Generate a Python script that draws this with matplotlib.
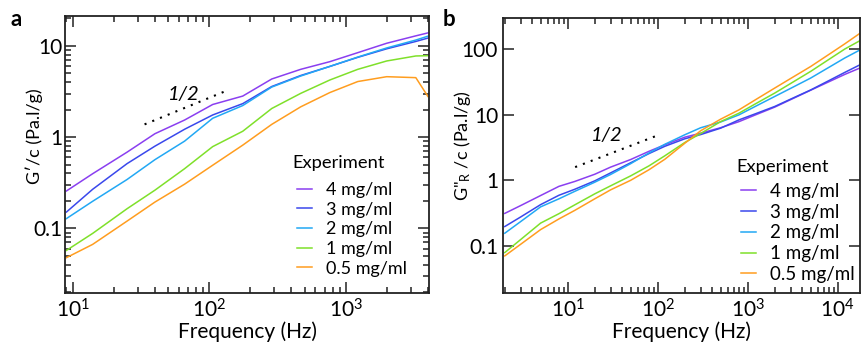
import matplotlib
matplotlib.use("Agg")
import matplotlib.pyplot as plt
from matplotlib import ticker

plt.rcParams['font.family'] = ['Lato', 'DejaVu Sans']
plt.rcParams['mathtext.default'] = 'regular'

# ==== データ (a: G'/c, b: G''_R/c) ====
labels = ["4 mg/ml", "3 mg/ml", "2 mg/ml", "1 mg/ml", "0.5 mg/ml"]
colors = ["#8a3ff0", "#3a48ec", "#22a8f4", "#7fe02a", "#ff9d1f"]

freq_a = [9, 14, 25, 40, 66, 106, 176, 287, 468, 764, 1225, 1995, 3260, 4000]
a_4 = [0.257, 0.397, 0.684, 1.09, 1.54, 2.28, 2.82, 4.34, 5.54, 6.72, 8.44, 10.7, 12.9, 13.9]
a_3 = [0.151, 0.268, 0.512, 0.796, 1.22, 1.75, 2.33, 3.59, 4.74, 5.96, 7.5, 9.3, 11.2, 12.2]
a_2 = [0.128, 0.198, 0.343, 0.566, 0.904, 1.61, 2.22, 3.54, 4.68, 5.96, 7.55, 9.5, 11.6, 12.8]
a_1 = [0.0573, 0.088, 0.164, 0.262, 0.451, 0.787, 1.16, 2.06, 3.02, 4.23, 5.54, 6.84, 7.76, 7.82]
a_05 = [0.0477, 0.0667, 0.120, 0.194, 0.305, 0.492, 0.817, 1.38, 2.15, 3.08, 4.07, 4.60, 4.49, 2.79]

freq_b = [2, 3, 5, 8, 12, 20, 30, 50, 80, 120, 200, 300, 500, 800, 1200, 2000, 3000,
          5000, 8000, 12000, 17500]
b_4 = [0.311, 0.409, 0.582, 0.804, 0.955, 1.23, 1.58, 2.06, 2.75, 3.46, 4.52, 5.2, 6.3,
       7.8, 9.8, 13.0, 16.9, 23.5, 31.7, 41, 51]
b_3 = [0.196, 0.274, 0.423, 0.588, 0.726, 0.975, 1.29, 1.84, 2.54, 3.28, 4.27, 4.95, 6.2,
       8.3, 10.2, 13.3, 17.2, 23.7, 33, 44, 57]
b_2 = [0.155, 0.233, 0.391, 0.519, 0.675, 0.93, 1.22, 1.78, 2.6, 3.52, 4.92, 6.29, 7.7,
       9.9, 13.2, 18.9, 25.1, 36, 52.6, 73, 96]
b_1 = [0.0785, 0.124, 0.221, 0.308, 0.420, 0.618, 0.819, 1.16, 1.65, 2.35, 3.75, 5.14, 7.8,
       10.5, 14.4, 21.3, 29.8, 45.5, 69.5, 100, 133]
b_05 = [0.0699, 0.105, 0.176, 0.256, 0.346, 0.519, 0.711, 0.993, 1.44, 2.08, 3.65, 5.66, 8.5,
        11.8, 16.6, 25.4, 35.5, 54, 82.8, 120, 172]

# 傾き 1/2 のガイド線
guide_a_x = [33.6, 134]
guide_a_y = [1.38, 3.23]
guide_b_x = [12.1, 104]
guide_b_y = [1.58, 4.92]

fig = plt.figure(figsize=(8.62, 3.49), dpi=100)
ax_a = fig.add_axes([0.0754, 0.1605, 0.4223, 0.7937])
ax_b = fig.add_axes([0.5835, 0.1605, 0.4142, 0.7879])


def style_axes(ax, minor_y):
    ax.set_xscale("log")
    ax.set_yscale("log")
    for s in ax.spines.values():
        s.set_linewidth(1.3)
        s.set_color("#222222")
    ax.tick_params(which="both", direction="in", top=True, right=True,
                   width=1.1, color="#222222", labelsize=15)
    ax.tick_params(which="major", length=8)
    ax.tick_params(which="minor", length=4.5)
    ax.xaxis.set_minor_formatter(ticker.NullFormatter())
    ax.yaxis.set_major_formatter(ticker.FuncFormatter(lambda v, _: f"{v:g}"))
    if not minor_y:
        ax.yaxis.set_minor_locator(ticker.NullLocator())
    else:
        ax.yaxis.set_minor_formatter(ticker.NullFormatter())
    ax.set_xlabel("Frequency (Hz)", fontsize=15, labelpad=0)


# ==== (a) ====
for ys, c, lab in zip([a_4, a_3, a_2, a_1, a_05], colors, labels):
    ax_a.plot(freq_a, ys, color=c, lw=1.1, label=lab)
ax_a.plot(guide_a_x, guide_a_y, color="k", lw=1.5, ls=(0, (1, 3)))
ax_a.text(65, 2.97, "1/2", style="italic", fontsize=14.5, ha="center", va="center")
style_axes(ax_a, True)
ax_a.set_xlim(8.78, 4073)
ax_a.set_ylim(0.01955, 21.3)
ax_a.yaxis.set_major_locator(ticker.FixedLocator([0.1, 1, 10]))
ax_a.tick_params(axis="y", pad=2)
ax_a.set_ylabel("G\u2032/c (Pa.l/g)", fontsize=13)
ax_a.yaxis.set_label_coords(-0.06, 0.567)
ax_a.text(0.6255, 0.469, "Experiment", transform=ax_a.transAxes, fontsize=13.2,
          ha="left", va="center")
ax_a.legend(loc="upper left", bbox_to_anchor=(0.637, 0.40),
            frameon=False, fontsize=13, handlelength=0.85,
            handletextpad=0.75, labelspacing=0.2,
            borderpad=0, borderaxespad=0)

# ==== (b) ====
for ys, c, lab in zip([b_4, b_3, b_2, b_1, b_05], colors, labels):
    ax_b.plot(freq_b, ys, color=c, lw=1.1, label=lab)
ax_b.plot(guide_b_x, guide_b_y, color="k", lw=1.5, ls=(0, (1, 3)))
ax_b.text(27.1, 4.78, "1/2", style="italic", fontsize=14.5, ha="center", va="center")
style_axes(ax_b, False)
ax_b.set_xlim(1.91, 17700)
ax_b.set_ylim(0.019, 297)
ax_b.yaxis.set_major_locator(ticker.FixedLocator([0.1, 1, 10, 100]))
ax_b.tick_params(axis="y", pad=3.5)
ax_b.set_ylabel("G\"$_{R}$ /c (Pa.l/g)", fontsize=13)
ax_b.yaxis.set_label_coords(-0.084, 0.536)
ax_b.text(0.655, 0.458, "Experiment", transform=ax_b.transAxes, fontsize=13.2,
          ha="left", va="center")
ax_b.legend(loc="upper left", bbox_to_anchor=(0.667, 0.40),
            frameon=False, fontsize=13.5, handlelength=0.8,
            handletextpad=0.75, labelspacing=0.2,
            borderpad=0, borderaxespad=0)

fig.text(0.012, 0.975, "a", fontsize=16, fontweight="bold", va="top")
fig.text(0.514, 0.975, "b", fontsize=16, fontweight="bold", va="top")

fig.savefig("out.png", dpi=100)
